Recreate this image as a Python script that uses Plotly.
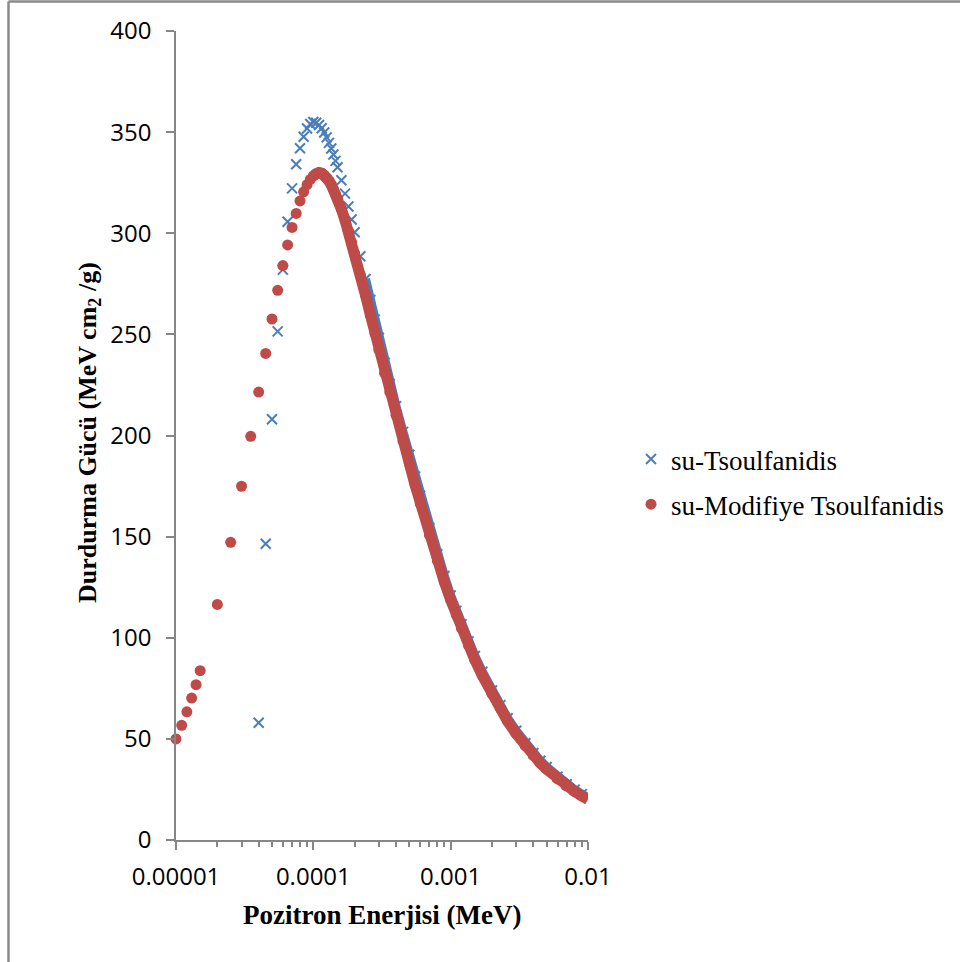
import plotly.graph_objects as go

# ---- data ----
# Sparse low-energy points (MeV) and stopping power (MeV cm^2/g)
energy_low_modified = [1.0e-5, 1.1e-5, 1.2e-5, 1.3e-5, 1.4e-5, 1.5e-5, 2.0e-5, 2.5e-5, 3.0e-5,
                       3.5e-5, 4.0e-5, 4.5e-5, 5.0e-5, 5.5e-5, 6.0e-5, 6.5e-5, 7.0e-5, 7.5e-5,
                       8.0e-5, 8.5e-5, 9.0e-5, 9.5e-5]
stopping_low_modified = [50.0, 56.7, 63.4, 70.2, 76.8, 83.7, 116.5, 147.2, 174.9,
                         199.6, 221.5, 240.6, 257.6, 271.8, 284.0, 294.2, 302.9, 309.8,
                         316.0, 320.5, 324.0, 326.6]

energy_low_tsoulfanidis = [4.0e-5, 4.5e-5, 5.0e-5, 5.5e-5, 6.0e-5, 6.5e-5, 7.0e-5, 7.5e-5,
                           8.0e-5, 8.5e-5, 9.0e-5, 9.5e-5]
stopping_low_tsoulfanidis = [58.0, 146.5, 208.0, 251.5, 282.0, 305.7, 322.2, 334.1,
                             342.0, 347.7, 351.8, 354.0]

# Dense part of both curves (shared energies)
energy_dense = [1.00e-4, 1.05e-4, 1.10e-4, 1.15e-4, 1.20e-4, 1.25e-4, 1.30e-4, 1.35e-4,
                1.40e-4, 1.45e-4, 1.50e-4, 1.60e-4, 1.70e-4, 1.80e-4, 1.90e-4, 2.00e-4,
                2.2e-4, 2.4e-4, 2.6e-4, 2.8e-4, 3.0e-4, 3.3e-4, 3.6e-4, 4.0e-4, 4.5e-4,
                5.0e-4, 5.5e-4, 6.0e-4, 7.0e-4, 8.0e-4, 9.0e-4,
                1.0e-3, 1.1e-3, 1.2e-3, 1.35e-3, 1.5e-3, 1.7e-3, 2.0e-3, 2.3e-3, 2.6e-3,
                3.0e-3, 3.5e-3, 4.0e-3, 4.5e-3, 5.0e-3, 6.0e-3, 7.0e-3, 8.0e-3, 9.0e-3, 1.0e-2]
stopping_dense_tsoulfanidis = [355.0, 354.6, 353.5, 351.9, 349.8, 347.4, 344.7, 341.9,
                               338.9, 335.8, 332.6, 326.2, 319.6, 313.2, 306.8, 300.5,
                               288.6, 277.4, 267.0, 257.3, 248.3, 236.0, 225.5, 214.5, 201.8,
                               190.5, 179.7, 170.2, 154.3, 141.3, 130.5,
                               120.9, 113.3, 106.7, 98.2, 91.0, 83.2, 73.9, 66.7, 60.2,
                               54.0, 47.8, 43.0, 39.2, 36.1, 31.3, 27.6, 24.9, 22.7, 20.9]
stopping_dense_modified = [328.4, 329.6, 330.0, 329.7, 328.8, 327.5, 325.9, 324.0,
                           321.8, 319.5, 317.1, 311.9, 306.5, 301.0, 295.5, 290.0,
                           279.4, 269.3, 259.7, 250.8, 242.4, 230.8, 221.5, 210.0, 197.2,
                           186.2, 175.6, 166.4, 150.8, 138.1, 127.6,
                           118.7, 111.2, 104.6, 96.2, 89.1, 81.4, 72.2, 65.1, 58.7,
                           52.6, 46.5, 41.8, 38.0, 35.0, 30.2, 26.7, 24.0, 21.8, 20.0]

series_names = ["su-Tsoulfanidis", "su-Modifiye Tsoulfanidis"]
x_tick_values = [1e-5, 1e-4, 1e-3, 1e-2]
x_tick_labels = ["0.00001", "0.0001", "0.001", "0.01"]
y_tick_values = [0, 50, 100, 150, 200, 250, 300, 350, 400]

BLUE = "#4A7EBB"
RED = "#BE4B48"
AXIS = "#868686"

blue_x = energy_low_tsoulfanidis + energy_dense
blue_y = stopping_low_tsoulfanidis + stopping_dense_tsoulfanidis
red_x = energy_low_modified + energy_dense
red_y = stopping_low_modified + stopping_dense_modified

# index from which the measured points are so dense they merge into a band
band_start_blue = energy_dense.index(2.4e-4)

fig = go.Figure()

# blue band (dense part) + blue markers
fig.add_trace(go.Scatter(
    x=energy_dense[band_start_blue:], y=stopping_dense_tsoulfanidis[band_start_blue:],
    mode="lines", line=dict(color=BLUE, width=9), showlegend=False,
    hoverinfo="skip", cliponaxis=False))
fig.add_trace(go.Scatter(
    x=blue_x, y=blue_y, mode="markers", name=series_names[0], legendgroup="a",
    marker=dict(symbol="x-thin", size=10, color=BLUE, line=dict(color=BLUE, width=2)),
    cliponaxis=False))

# red band (dense part) + red markers
fig.add_trace(go.Scatter(
    x=energy_dense, y=stopping_dense_modified,
    mode="lines", line=dict(color=RED, width=11), showlegend=False,
    hoverinfo="skip", cliponaxis=False))
fig.add_trace(go.Scatter(
    x=red_x, y=red_y, mode="markers", name=series_names[1], legendgroup="b",
    marker=dict(symbol="circle", size=11, color=RED, line=dict(width=0)),
    cliponaxis=False))

L, R, T, B = 176, 372, 31, 122
W, H = 960, 962
pw, ph = W - L - R, H - T - B


def px(x):
    return (x - L) / pw


def py(y):
    return (H - B - y) / ph


fig.update_layout(
    width=W, height=H,
    margin=dict(l=L, r=R, t=T, b=B, pad=0, autoexpand=False),
    paper_bgcolor="white", plot_bgcolor="white",
    showlegend=True,
    legend=dict(x=px(631), y=py(482), xanchor="left", yanchor="middle",
                font=dict(family="Liberation Serif", size=27, color="black"),
                tracegroupgap=7, bgcolor="rgba(0,0,0,0)", itemsizing="trace"),
    xaxis=dict(type="log", range=[-5, -2], showgrid=False, zeroline=False,
               showline=True, linecolor=AXIS, linewidth=1.5,
               ticks="outside", ticklen=8, tickwidth=1.5, tickcolor=AXIS,
               tickvals=x_tick_values, ticktext=x_tick_labels, ticklabelstandoff=6,
               tickfont=dict(family="Open Sans", size=24, color="black"),
               minor=dict(ticks="outside", ticklen=5, tickwidth=1.5, tickcolor=AXIS,
                          dtick="D1", showgrid=False)),
    yaxis=dict(range=[0, 400], showgrid=False, zeroline=False,
               showline=True, linecolor=AXIS, linewidth=1.5,
               ticks="outside", ticklen=8, tickwidth=1.5, tickcolor=AXIS,
               tickvals=y_tick_values, ticklabelstandoff=10,
               tickfont=dict(family="Open Sans", size=24, color="black")),
    shapes=[
        dict(type="line", xref="paper", yref="paper",
             x0=px(8.5), y0=py(1.5), x1=px(8.5), y1=py(962),
             line=dict(color="#8a8a8a", width=2.5), layer="below"),
        dict(type="line", xref="paper", yref="paper",
             x0=px(8.5), y0=py(1.5), x1=px(960), y1=py(1.5),
             line=dict(color="#8a8a8a", width=2.5), layer="below"),
    ],
    annotations=[
        dict(text="<b>Pozitron Enerjisi (MeV)</b>", xref="paper", yref="paper",
             x=px(382), y=py(915), xanchor="center", yanchor="middle", showarrow=False,
             font=dict(family="Liberation Serif", size=27, color="black")),
        dict(text="<b>Durdurma Gücü (MeV cm<sub>2</sub> /g)</b>", xref="paper", yref="paper",
             x=px(89), y=py(433), xanchor="center", yanchor="middle", showarrow=False,
             textangle=-90,
             font=dict(family="Liberation Serif", size=26, color="black")),
    ],
)

fig.write_html("out.html",
               config={"displayModeBar": False},
               post_script="document.body.style.margin='0px';"
                           "document.body.style.overflow='hidden';"
                           "document.documentElement.style.overflow='hidden';")
